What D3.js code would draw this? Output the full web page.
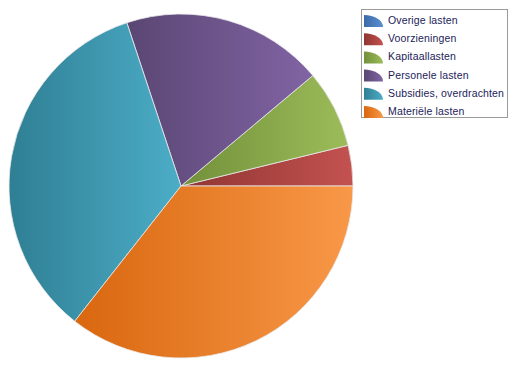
<!DOCTYPE html>
<html>
<head>
<meta charset="utf-8">
<script src="https://cdn.jsdelivr.net/npm/d3@7"></script>
<style>
  body { margin: 0; background: #fff; }
  text { font-family: "Liberation Sans", Arial, sans-serif; }
</style>
</head>
<body>
<div class="canvas"></div>
<script>
// data (percent of total)
const categories = ["Overige lasten", "Voorzieningen", "Kapitaallasten", "Personele lasten", "Subsidies, overdrachten", "Materiële lasten"]
const values = [0, 3.8, 7.3, 19.0, 34.3, 35.6]
const darkColors = ["#3b6aa6", "#8f3533", "#72903a", "#5a4673", "#2f7f94", "#d9670f"]
const lightColors = ["#5b8fd2", "#c3524f", "#9cbc5a", "#8164a4", "#4cadc7", "#f89848"]

const dims = { width: 520, height: 371 }
const svg = d3.select(".canvas")
    .append("svg")
    .attr("width", dims.width)
    .attr("height", dims.height)

// one horizontal gradient per slice, dark on the left
const defs = svg.append("defs")
categories.forEach((c, i) => {
    const g = defs.append("linearGradient")
        .attr("id", "grad" + i)
        .attr("x1", "0%").attr("x2", "100%")
        .attr("y1", "0%").attr("y2", "0%")
    g.append("stop").attr("offset", "0%").attr("stop-color", darkColors[i])
    g.append("stop").attr("offset", "100%").attr("stop-color", lightColors[i])
})

/**
 * Pie
 */
const radius = 172
const graph = svg.append("g")
    .attr("transform", `translate(181, 186)`)

// start at 3 o'clock and go counter-clockwise
const pie = d3.pie()
    .sort(null)
    .value(d => d.value)
    .startAngle(Math.PI / 2)
    .endAngle(Math.PI / 2 - 2 * Math.PI)

const arc = d3.arc()
    .innerRadius(0)
    .outerRadius(radius)

const pieData = categories.map((c, i) => ({ name: c, value: values[i], i: i }))

graph.selectAll(".slice")
    .data(pie(pieData).filter(d => d.data.value > 0))
    .enter()
    .append("path")
    .attr("class", "slice")
    .attr("d", arc)
    .attr("fill", d => `url(#grad${d.data.i})`)
    .attr("stroke", "#e8e8e8")
    .attr("stroke-width", 0.8)

/**
 * Legend
 */
const legend = svg.append("g")

legend.append("rect")
    .attr("x", 361.5)
    .attr("y", 9.5)
    .attr("width", 146)
    .attr("height", 108)
    .attr("fill", "#fff")
    .attr("stroke", "#9a9a9a")

const rowH = 18.2
const items = legend.selectAll(".item")
    .data(pieData)
    .enter()
    .append("g")
    .attr("class", "item")
    .attr("transform", (d, i) => `translate(364, ${13 + i * rowH})`)

// quarter-ellipse icon
items.append("path")
    .attr("d", "M0,14 L0,2 A19,12 0 0 1 19,14 Z")
    .attr("fill", d => `url(#grad${d.i})`)

items.append("text")
    .attr("x", 24)
    .attr("y", 11)
    .attr("font-size", "10.5px")
    .attr("letter-spacing", "0.15px")
    .attr("fill", "#22225a")
    .text(d => d.name)
</script>
</body>
</html>
